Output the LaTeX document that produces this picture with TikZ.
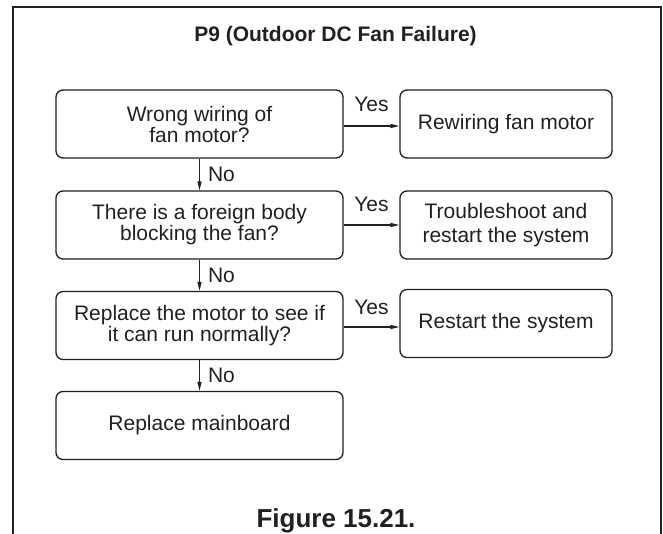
\documentclass[tikz,border=0pt]{standalone}
\usepackage{fontspec}
\setmainfont{Liberation Sans}
\usetikzlibrary{arrows.meta}
\definecolor{ink}{HTML}{231F20}
\begin{document}
\begin{tikzpicture}[x=1pt,y=-1pt,
  every node/.style={text=ink},
  qbox/.style={draw=ink, line width=1.3pt, rounded corners=7pt, minimum width=287pt, minimum height=68pt, inner sep=0pt, align=center, font=\fontsize{21}{21}\selectfont},
  abox/.style={draw=ink, line width=1.3pt, rounded corners=7pt, minimum width=212pt, minimum height=68pt, inner sep=0pt, align=center, font=\fontsize{21}{24.5}\selectfont},
  flow/.style={draw=ink, line width=1.1pt, -{Triangle[length=9pt,width=4pt]}},
  lab/.style={inner sep=0pt, font=\fontsize{21}{21}\selectfont}
]
\useasboundingbox (0,0) rectangle (663,533);
\draw[ink, line width=1.2pt] (13,540) -- (13,7) -- (661,7) -- (661,540);

\node[anchor=base, inner sep=0pt, font=\fontsize{21}{21}\selectfont\bfseries] (title) at (335.5,41) {P9 (Outdoor DC Fan Failure)};

\node[qbox] (q1) at (199.5,124) {Wrong wiring of\\fan motor?};
\node[qbox] (q2) at (199.5,225) {There is a foreign body\\blocking the fan?};
\node[qbox] (q3) at (199.5,325.5) {Replace the motor to see if\\it can run normally?};
\node[qbox] (q4) at (199.5,425.5) {Replace mainboard};

\node[abox] (a1) at (506,124) {Rewiring fan motor};
\node[abox] (a2) at (506,225) {Troubleshoot and\\restart the system};
\node[abox] (a3) at (506,323.5) {Restart the system};

\draw[flow] ([yshift=-2pt]q1.east) -- ([yshift=-2pt]q1.east -| a1.west) node[lab, midway, anchor=base, yshift=15pt] (y1) {Yes};
\draw[flow] (q2.east) -- (a2.west) node[lab, midway, anchor=base, yshift=14pt] (y2) {Yes};
\draw[flow] ([yshift=-1.5pt]q3.east) -- ([yshift=-1.5pt]q3.east -| a3.west) node[lab, midway, anchor=base, yshift=13pt] (y3) {Yes};

\draw[flow] (q1.south) -- (q2.north) node[lab, midway, anchor=west, xshift=8pt] (n1) {No};
\draw[flow] (q2.south) -- (q3.north) node[lab, midway, anchor=west, xshift=8pt] (n2) {No};
\draw[flow] (q3.south) -- (q4.north) node[lab, midway, anchor=west, xshift=8pt] (n3) {No};

\node[anchor=base, inner sep=0pt, font=\fontsize{26}{26}\selectfont\bfseries] (cap) at (336,527) {Figure 15.21.};
\end{tikzpicture}
\end{document}
